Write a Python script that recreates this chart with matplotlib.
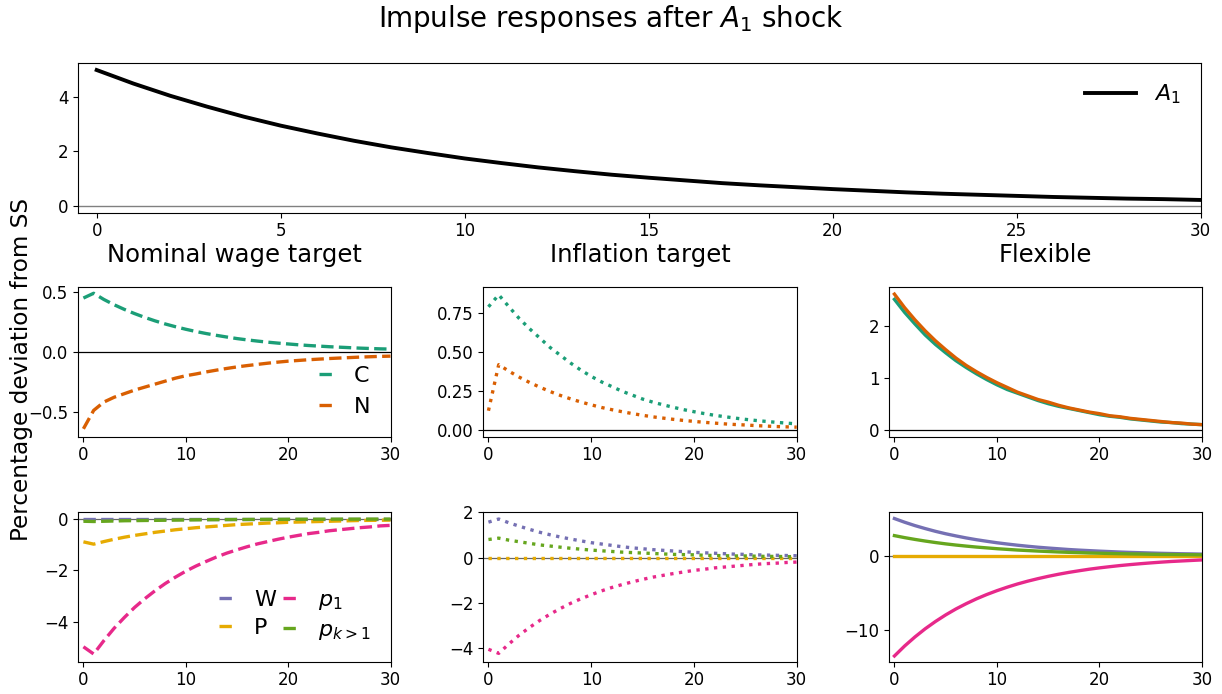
import numpy as np
import matplotlib
matplotlib.use("Agg")
import matplotlib.pyplot as plt

# ---------------- data ----------------
t = list(range(31))

A1 = [5.00, 4.50, 4.05, 3.65, 3.28, 2.95, 2.66, 2.39, 2.15, 1.94, 1.74, 1.57, 1.41, 1.27,
      1.14, 1.03, 0.93, 0.83, 0.75, 0.68, 0.61, 0.55, 0.49, 0.44, 0.40, 0.36, 0.32, 0.29,
      0.26, 0.24, 0.21]

# Nominal wage target
nom_C = [0.45, 0.49, 0.438, 0.394, 0.355, 0.320, 0.288, 0.259, 0.233, 0.210, 0.189, 0.170,
         0.153, 0.138, 0.124, 0.111, 0.100, 0.090, 0.081, 0.073, 0.066, 0.059, 0.053, 0.048,
         0.043, 0.039, 0.035, 0.031, 0.028, 0.025, 0.023]
nom_N = [-0.644, -0.49, -0.42, -0.38, -0.35, -0.32, -0.295, -0.27, -0.245, -0.22, -0.20,
         -0.185, -0.168, -0.153, -0.139, -0.126, -0.115, -0.105, -0.095, -0.086, -0.078,
         -0.072, -0.066, -0.061, -0.056, -0.052, -0.048, -0.044, -0.041, -0.038, -0.036]
nom_W = [0.0] * 31
nom_P = [-0.89, -0.98, -0.88, -0.79, -0.71, -0.64, -0.58, -0.52, -0.47, -0.42, -0.38, -0.34,
         -0.31, -0.28, -0.25, -0.22, -0.20, -0.18, -0.16, -0.15, -0.13, -0.12, -0.11, -0.10,
         -0.09, -0.08, -0.07, -0.06, -0.055, -0.05, -0.045]
nom_p1 = [-4.97, -5.25, -4.73, -4.25, -3.83, -3.44, -3.10, -2.79, -2.51, -2.26, -2.03, -1.83,
          -1.65, -1.48, -1.33, -1.20, -1.08, -0.97, -0.88, -0.79, -0.71, -0.64, -0.57, -0.52,
          -0.46, -0.42, -0.38, -0.34, -0.31, -0.27, -0.25]
nom_pk = [-0.09, -0.10, -0.09, -0.08, -0.07, -0.065, -0.06, -0.055, -0.05, -0.045, -0.04,
          -0.035, -0.03, -0.028, -0.025, -0.022, -0.02, -0.018, -0.016, -0.015, -0.013,
          -0.012, -0.011, -0.01, -0.009, -0.008, -0.007, -0.006, -0.006, -0.005, -0.005]

# Inflation target
inf_C = [0.79, 0.867, 0.79, 0.715, 0.65, 0.59, 0.53, 0.48, 0.43, 0.385, 0.345, 0.31, 0.28,
         0.25, 0.225, 0.20, 0.18, 0.163, 0.147, 0.132, 0.119, 0.107, 0.096, 0.087, 0.078,
         0.070, 0.063, 0.057, 0.051, 0.046, 0.041]
inf_N = [0.125, 0.42, 0.378, 0.34, 0.306, 0.276, 0.248, 0.223, 0.201, 0.181, 0.163, 0.146,
         0.132, 0.119, 0.107, 0.096, 0.086, 0.078, 0.070, 0.063, 0.057, 0.051, 0.046, 0.041,
         0.037, 0.034, 0.030, 0.027, 0.024, 0.022, 0.020]
inf_W = [1.57, 1.71, 1.54, 1.39, 1.25, 1.12, 1.01, 0.91, 0.82, 0.74, 0.66, 0.60, 0.54, 0.48,
         0.43, 0.39, 0.35, 0.32, 0.29, 0.26, 0.23, 0.21, 0.19, 0.17, 0.15, 0.14, 0.12, 0.11,
         0.10, 0.09, 0.08]
inf_P = [0.0] * 31
inf_p1 = [-4.07, -4.25, -3.83, -3.44, -3.10, -2.79, -2.51, -2.26, -2.03, -1.83, -1.65, -1.48,
          -1.33, -1.20, -1.08, -0.97, -0.87, -0.79, -0.71, -0.64, -0.57, -0.52, -0.46, -0.42,
          -0.38, -0.34, -0.30, -0.27, -0.25, -0.22, -0.20]
inf_pk = [0.80, 0.86, 0.77, 0.70, 0.63, 0.56, 0.51, 0.46, 0.41, 0.37, 0.33, 0.30, 0.27, 0.24,
          0.22, 0.20, 0.18, 0.16, 0.14, 0.13, 0.12, 0.10, 0.09, 0.08, 0.07, 0.07, 0.06, 0.05,
          0.05, 0.04, 0.04]

# Flexible
flx_C = [2.50, 2.25, 2.03, 1.82, 1.64, 1.48, 1.33, 1.20, 1.08, 0.97, 0.87, 0.78, 0.71, 0.64,
         0.57, 0.51, 0.46, 0.42, 0.38, 0.34, 0.30, 0.27, 0.25, 0.22, 0.20, 0.18, 0.16, 0.15,
         0.13, 0.12, 0.11]
flx_N = [2.60, 2.34, 2.11, 1.90, 1.71, 1.54, 1.38, 1.24, 1.12, 1.01, 0.91, 0.82, 0.73, 0.66,
         0.59, 0.54, 0.48, 0.43, 0.39, 0.35, 0.32, 0.28, 0.26, 0.23, 0.21, 0.19, 0.17, 0.15,
         0.14, 0.12, 0.11]
flx_W = [5.00, 4.50, 4.05, 3.65, 3.28, 2.95, 2.66, 2.39, 2.15, 1.94, 1.74, 1.57, 1.41, 1.27,
         1.14, 1.03, 0.93, 0.83, 0.75, 0.68, 0.61, 0.55, 0.49, 0.44, 0.40, 0.36, 0.32, 0.29,
         0.26, 0.24, 0.21]
flx_P = [0.0] * 31
flx_p1 = [-13.5, -12.15, -10.94, -9.84, -8.86, -7.97, -7.17, -6.46, -5.81, -5.23, -4.71,
          -4.24, -3.81, -3.43, -3.09, -2.78, -2.50, -2.25, -2.03, -1.82, -1.64, -1.48, -1.33,
          -1.20, -1.08, -0.97, -0.87, -0.78, -0.71, -0.64, -0.57]
flx_pk = [2.70, 2.43, 2.19, 1.97, 1.77, 1.59, 1.43, 1.29, 1.16, 1.05, 0.94, 0.85, 0.76, 0.69,
          0.62, 0.56, 0.50, 0.45, 0.41, 0.36, 0.33, 0.30, 0.27, 0.24, 0.22, 0.19, 0.17, 0.16,
          0.14, 0.13, 0.11]

col_titles = ["Nominal wage target", "Inflation target", "Flexible"]
real_labels = ["C", "N"]
price_labels = ["W", "P", "$p_1$", "$p_{k>1}$"]
styles = ["--", ":", "-"]

real_data = [[nom_C, nom_N], [inf_C, inf_N], [flx_C, flx_N]]
price_data = [[nom_W, nom_P, nom_p1, nom_pk], [inf_W, inf_P, inf_p1, inf_pk],
              [flx_W, flx_P, flx_p1, flx_pk]]
real_yticks = [[-0.5, 0.0, 0.5], [0.0, 0.25, 0.5, 0.75], [0, 1, 2]]
price_yticks = [[-4, -2, 0], [-4, -2, 0, 2], [-10, 0]]

real_colors = ["#1b9e77", "#d95f02"]
price_colors = ["#7570b3", "#e6ab02", "#e7298a", "#66a61e"]

# axis ranges (layout)
top_ylim = (-0.26, 5.27)
real_ylims = [(-0.71, 0.54), (-0.041, 0.915), (-0.12, 2.73)]
price_ylims = [(-5.55, 0.27), (-4.62, 2.02), (-14.27, 5.88)]

# ---------------- figure ----------------
W, H = 1222, 694
fig = plt.figure(figsize=(W / 100, H / 100), dpi=100)

def px_axes(l, r, top, bot):
    return fig.add_axes([l / W, 1 - bot / H, (r - l) / W, (bot - top) / H])

ax0 = px_axes(78.3, 1200.5, 62.7, 212.7)
ax0.axhline(0, color="gray", lw=1.0, zorder=1)
ax0.plot(t, A1, color="k", lw=2.8, label="$A_1$")
ax0.set_xlim(-0.5, 30)
ax0.set_ylim(*top_ylim)
ax0.set_yticks([0, 2, 4])
ax0.set_xticks([0, 5, 10, 15, 20, 25, 30])
ax0.tick_params(labelsize=12)
ax0.legend(loc="upper right", frameon=False, fontsize=16, handlelength=2.3)

cols = [(78.3, 390.5), (483.3, 796.7), (889.3, 1202)]
rows = [(287.3, 436.7), (512, 661.7)]

for j in range(3):
    l, r = cols[j]
    axr = px_axes(l, r, rows[0][0], rows[0][1])
    axr.axhline(0, color="k", lw=0.9, zorder=1)
    for k in range(2):
        axr.plot(t, real_data[j][k], ls=styles[j], color=real_colors[k], lw=2.4,
                 label=real_labels[k])
    axr.set_xlim(-0.5, 30)
    axr.set_ylim(*real_ylims[j])
    axr.set_xticks([0, 10, 20, 30])
    axr.set_yticks(real_yticks[j])
    axr.tick_params(labelsize=12)
    axr.set_title(col_titles[j], fontsize=17.5, pad=18)

    axp = px_axes(l, r, rows[1][0], rows[1][1])
    axp.axhline(0, color="k", lw=0.9, alpha=0.6, zorder=1)
    for k in range(4):
        axp.plot(t, price_data[j][k], ls=styles[j], color=price_colors[k], lw=2.4,
                 label=price_labels[k])
    axp.set_xlim(-0.5, 30)
    axp.set_ylim(*price_ylims[j])
    axp.set_xticks([0, 10, 20, 30])
    axp.set_yticks(price_yticks[j])
    axp.tick_params(labelsize=12)

    if j == 0:
        axr.legend(loc="lower right", frameon=False, fontsize=16, handlelength=0.78)
        axp.legend(loc="lower right", frameon=False, fontsize=16, ncol=2,
                   handlelength=0.78, columnspacing=0.3, labelspacing=0.35)

fig.suptitle("Impulse responses after $A_1$ shock", fontsize=20, y=0.996)
fig.text(0.018, 0.468, "Percentage deviation from SS", rotation=90, fontsize=16.7,
         ha="center", va="center")

fig.savefig("out.png", dpi=100)
